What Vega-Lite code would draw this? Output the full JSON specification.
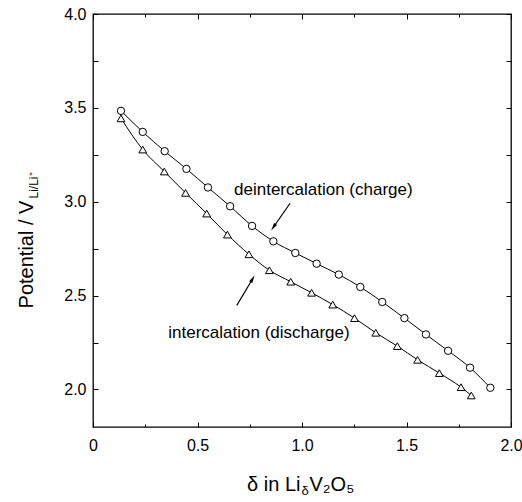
{
  "$schema": "https://vega.github.io/schema/vega-lite/v6.json",
  "width": 418,
  "height": 413,
  "autosize": {"type": "none"},
  "padding": {"left": 93, "top": 14, "right": 11, "bottom": 75},
  "background": "white",
  "config": {
    "view": {"stroke": "black", "strokeWidth": 1.3},
    "font": "Liberation Sans",
    "axis": {
      "domain": false,
      "grid": false,
      "tickColor": "black",
      "tickWidth": 1,
      "labelColor": "black",
      "titleColor": "black",
      "labelFont": "Liberation Sans",
      "titleFont": "Liberation Sans",
      "labelFontSize": 16,
      "titleFontWeight": "normal"
    }
  },
  "datasets": {
    "curves": [
      {"process": "charge", "delta": 0.134, "potential": 3.484},
      {"process": "charge", "delta": 0.238, "potential": 3.372},
      {"process": "charge", "delta": 0.343, "potential": 3.269},
      {"process": "charge", "delta": 0.447, "potential": 3.175},
      {"process": "charge", "delta": 0.550, "potential": 3.076},
      {"process": "charge", "delta": 0.656, "potential": 2.976},
      {"process": "charge", "delta": 0.761, "potential": 2.871},
      {"process": "charge", "delta": 0.863, "potential": 2.789},
      {"process": "charge", "delta": 0.968, "potential": 2.727},
      {"process": "charge", "delta": 1.070, "potential": 2.670},
      {"process": "charge", "delta": 1.176, "potential": 2.612},
      {"process": "charge", "delta": 1.279, "potential": 2.546},
      {"process": "charge", "delta": 1.384, "potential": 2.466},
      {"process": "charge", "delta": 1.490, "potential": 2.380},
      {"process": "charge", "delta": 1.593, "potential": 2.293},
      {"process": "charge", "delta": 1.699, "potential": 2.206},
      {"process": "charge", "delta": 1.804, "potential": 2.116},
      {"process": "charge", "delta": 1.901, "potential": 2.009},
      {"process": "discharge", "delta": 0.134, "potential": 3.444},
      {"process": "discharge", "delta": 0.238, "potential": 3.278},
      {"process": "discharge", "delta": 0.341, "potential": 3.161},
      {"process": "discharge", "delta": 0.443, "potential": 3.047},
      {"process": "discharge", "delta": 0.544, "potential": 2.937},
      {"process": "discharge", "delta": 0.643, "potential": 2.825},
      {"process": "discharge", "delta": 0.746, "potential": 2.720},
      {"process": "discharge", "delta": 0.844, "potential": 2.635},
      {"process": "discharge", "delta": 0.946, "potential": 2.574},
      {"process": "discharge", "delta": 1.046, "potential": 2.515},
      {"process": "discharge", "delta": 1.147, "potential": 2.452},
      {"process": "discharge", "delta": 1.251, "potential": 2.380},
      {"process": "discharge", "delta": 1.353, "potential": 2.302},
      {"process": "discharge", "delta": 1.456, "potential": 2.231},
      {"process": "discharge", "delta": 1.553, "potential": 2.158},
      {"process": "discharge", "delta": 1.657, "potential": 2.087},
      {"process": "discharge", "delta": 1.761, "potential": 2.012},
      {"process": "discharge", "delta": 1.810, "potential": 1.968}
    ],
    "labels": [
      {"text": "deintercalation (charge)", "delta": 1.102, "potential": 3.061},
      {"text": "intercalation (discharge)", "delta": 0.794, "potential": 2.299}
    ],
    "arrows": [
      {"arrow": "charge", "part": "tail", "delta": 0.943, "potential": 2.992},
      {"arrow": "charge", "part": "head", "delta": 0.863, "potential": 2.864},
      {"arrow": "discharge", "part": "tail", "delta": 0.688, "potential": 2.448},
      {"arrow": "discharge", "part": "head", "delta": 0.764, "potential": 2.590}
    ]
  },
  "resolve": {
    "scale": {"x": "shared", "y": "shared"},
    "axis": {"x": "independent", "y": "independent"}
  },
  "layer": [
    {
      "data": {"name": "curves"},
      "transform": [{"filter": "datum.process === 'charge'"}],
      "mark": {"type": "line", "interpolate": "monotone", "color": "black", "strokeWidth": 1},
      "encoding": {
        "x": {
          "field": "delta", "type": "quantitative",
          "scale": {"domain": [0, 2], "nice": false, "zero": false},
          "axis": {
            "orient": "bottom", "values": [0, 0.5, 1, 1.5, 2], "tickSize": 5, "offset": -5,
            "labelExpr": "datum.value === 0 ? '0' : format(datum.value, '.1f')",
            "labelPadding": 10, "labelFlush": false,
            "title": "δ in Li", "titleFontSize": 20, "titleAlign": "right",
            "titleX": 207, "titleY": 68, "titleBaseline": "alphabetic"
          }
        },
        "y": {
          "field": "potential", "type": "quantitative",
          "scale": {"domain": [1.8, 4], "nice": false, "zero": false},
          "axis": {
            "orient": "left", "values": [2, 2.5, 3, 3.5, 4], "tickSize": 5, "offset": -5,
            "format": ".1f", "labelPadding": 7, "labelFlush": false,
            "title": "Potential / V", "titleFontSize": 20,
            "titleX": -66, "titleY": 240, "titleBaseline": "alphabetic", "titleAngle": -90
          }
        }
      }
    },
    {
      "data": {"name": "curves"},
      "transform": [{"filter": "datum.process === 'discharge'"}],
      "mark": {"type": "line", "interpolate": "monotone", "color": "black", "strokeWidth": 1},
      "encoding": {
        "x": {
          "field": "delta", "type": "quantitative",
          "axis": {"orient": "top", "values": [0, 0.5, 1, 1.5, 2], "tickSize": 5, "offset": -5, "labels": false, "title": null}
        },
        "y": {
          "field": "potential", "type": "quantitative",
          "axis": {"orient": "right", "values": [2, 2.5, 3, 3.5, 4], "tickSize": 5, "offset": -5, "labels": false, "title": null}
        }
      }
    },
    {
      "data": {"name": "curves"},
      "transform": [{"filter": "datum.process === 'charge'"}],
      "mark": {"type": "point", "shape": "circle", "filled": true, "fill": "white", "stroke": "black", "strokeWidth": 1, "opacity": 1, "size": 55},
      "encoding": {
        "x": {
          "field": "delta", "type": "quantitative",
          "axis": {
            "orient": "bottom", "values": [0.25, 0.75, 1.25, 1.75], "tickSize": 3, "offset": -3, "labels": false,
            "title": "δ", "titleFontSize": 13, "titleAlign": "left",
            "titleX": 208, "titleY": 70, "titleBaseline": "alphabetic"
          }
        },
        "y": {
          "field": "potential", "type": "quantitative",
          "axis": {
            "orient": "left", "values": [2.25, 2.75, 3.25, 3.75], "tickSize": 5, "offset": -5, "labels": false,
            "title": "Li/Li⁺", "titleFontSize": 12, "titleX": -61, "titleY": 171,
            "titleBaseline": "alphabetic", "titleAngle": -90
          }
        }
      }
    },
    {
      "data": {"name": "curves"},
      "transform": [{"filter": "datum.process === 'discharge'"}],
      "mark": {"type": "point", "shape": "triangle-up", "filled": true, "fill": "white", "stroke": "black", "strokeWidth": 1, "opacity": 1, "size": 60},
      "encoding": {
        "x": {
          "field": "delta", "type": "quantitative",
          "axis": {"orient": "top", "values": [0.25, 0.75, 1.25, 1.75], "tickSize": 3, "offset": -3, "labels": false, "title": null}
        },
        "y": {
          "field": "potential", "type": "quantitative",
          "axis": {"orient": "right", "values": [2.25, 2.75, 3.25, 3.75], "tickSize": 5, "offset": -5, "labels": false, "title": null}
        }
      }
    },
    {
      "data": {"name": "labels"},
      "mark": {"type": "text", "font": "Liberation Sans", "fontSize": 17, "color": "black", "align": "center", "baseline": "middle"},
      "encoding": {
        "x": {
          "field": "delta", "type": "quantitative",
          "axis": {
            "orient": "bottom", "values": [], "ticks": false, "labels": false,
            "title": "V₂O₅", "titleFontSize": 20, "titleAlign": "left",
            "titleX": 216, "titleY": 63, "titleBaseline": "alphabetic"
          }
        },
        "y": {"field": "potential", "type": "quantitative", "axis": null},
        "text": {"field": "text"}
      }
    },
    {
      "data": {"name": "arrows"},
      "mark": {"type": "line", "color": "black", "strokeWidth": 1.2},
      "encoding": {
        "x": {"field": "delta", "type": "quantitative", "axis": null},
        "y": {"field": "potential", "type": "quantitative", "axis": null},
        "detail": {"field": "arrow"}
      }
    },
    {
      "data": {"name": "arrows"},
      "transform": [{"filter": "datum.part === 'head' && datum.arrow === 'charge'"}],
      "mark": {"type": "point", "shape": "M0,-1L0.45,1L-0.45,1Z", "filled": true, "color": "black", "opacity": 1, "size": 64, "angle": 214},
      "encoding": {
        "x": {"field": "delta", "type": "quantitative", "axis": null},
        "y": {"field": "potential", "type": "quantitative", "axis": null}
      }
    },
    {
      "data": {"name": "arrows"},
      "transform": [{"filter": "datum.part === 'head' && datum.arrow === 'discharge'"}],
      "mark": {"type": "point", "shape": "M0,-1L0.45,1L-0.45,1Z", "filled": true, "color": "black", "opacity": 1, "size": 64, "angle": 30},
      "encoding": {
        "x": {"field": "delta", "type": "quantitative", "axis": null},
        "y": {"field": "potential", "type": "quantitative", "axis": null}
      }
    }
  ]
}
